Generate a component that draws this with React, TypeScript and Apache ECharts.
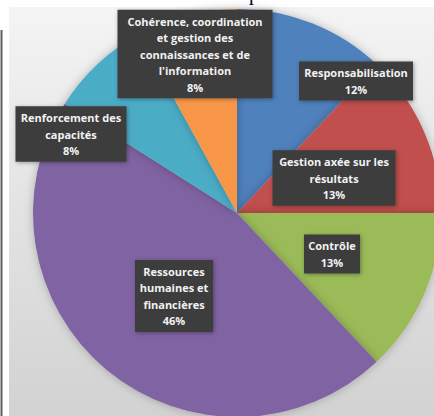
import React, { useEffect, useRef } from "react";
import * as echarts from "echarts";

const categories = [
  "Responsabilisation",
  "Gestion axée sur les résultats",
  "Contrôle",
  "Ressources humaines et financières",
  "Renforcement des capacités",
  "Cohérence, coordination et gestion des connaissances et de l'information",
];
const values = [12, 13, 13, 46, 8, 8];
const labelLines = [
  ["Responsabilisation"],
  ["Gestion axée sur les", "résultats"],
  ["Contrôle"],
  ["Ressources", "humaines et", "financières"],
  ["Renforcement des", "capacités"],
  ["Cohérence, coordination", "et gestion des", "connaissances et de", "l'information"],
];
const colors = ["#4F81BD", "#C0504D", "#9BBB59", "#8064A2", "#4BACC6", "#F79646"];
const labelCenters = [
  [356, 81],
  [334, 178],
  [332, 254],
  [174, 296],
  [71, 134],
  [195, 54],
];
const labelWidths = [110, 119, 52, 74, 107, 151];

export default function App() {
  const ref = useRef<HTMLDivElement>(null);
  useEffect(() => {
    if (!ref.current) return;
    const chart = echarts.init(ref.current, null, { renderer: "svg" });
    chart.setOption({
      animation: false,
      backgroundColor: "#ffffff",
      graphic: [
        {
          type: "rect",
          shape: { x: 9, y: 7, width: 425, height: 409 },
          style: {
            fill: new echarts.graphic.LinearGradient(0, 0, 0, 1, [
              { offset: 0, color: "#f4f4f4" },
              { offset: 1, color: "#d2d2d2" },
            ]),
          },
          z: -10,
        },
        {
          type: "line",
          shape: { x1: 1.5, y1: 30, x2: 1.5, y2: 416 },
          style: { stroke: "#5e5e5e", lineWidth: 2 },
        },
        {
          type: "text",
          x: 249,
          y: -17,
          style: {
            text: "p",
            fill: "#000",
            font: "20px 'Liberation Serif', serif",
            verticalAlign: "top",
          },
          z: 10,
        },
      ],
      series: [
        {
          type: "pie",
          center: [237, 213],
          radius: 204,
          startAngle: 90,
          clockwise: true,
          silent: true,
          labelLine: { show: false },
          itemStyle: {
            shadowBlur: 10,
            shadowColor: "rgba(0,0,0,0.25)",
          },
          labelLayout: (params: any) => {
            const c = labelCenters[params.dataIndex];
            return { x: c[0], y: c[1], align: "center", verticalAlign: "middle" };
          },
          data: categories.map((name, i) => ({
            name,
            value: values[i],
            itemStyle: { color: colors[i] },
            label: {
              show: true,
              position: "inside",
              formatter: () => labelLines[i].join("\n") + "\n" + values[i] + "%",
              width: labelWidths[i],
              overflow: "none",
              align: "center",
              color: "#f2f2f2",
              fontFamily: "'Open Sans', sans-serif",
              fontWeight: "bold",
              fontSize: 11,
              lineHeight: 16.5,
              backgroundColor: "#3d3d3d",
              padding: [3, 2],
              shadowBlur: 4,
              shadowColor: "rgba(0,0,0,0.35)",
              shadowOffsetX: 1,
              shadowOffsetY: 1,
            },
          })),
        },
      ],
    });
    return () => chart.dispose();
  }, []);
  return (
    <div
      ref={ref}
      style={{ position: "fixed", left: 0, top: 0, width: 434, height: 416 }}
    />
  );
}
